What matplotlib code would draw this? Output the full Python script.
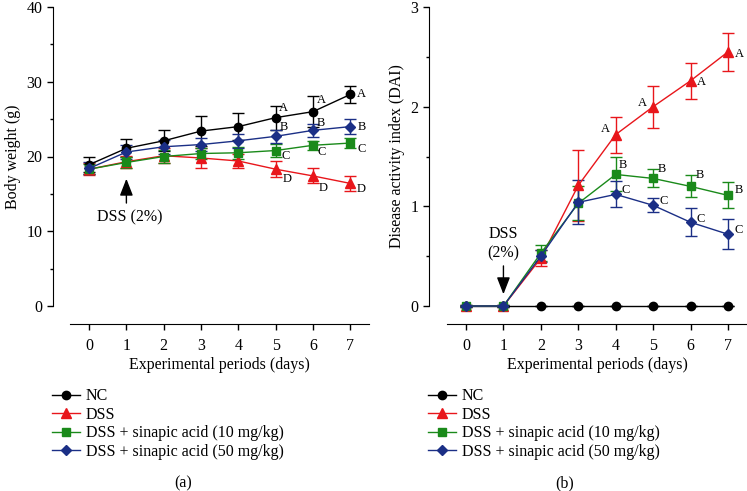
import matplotlib
matplotlib.use("Agg")
import matplotlib.pyplot as plt
import numpy as np

plt.rcParams["font.family"] = ["Liberation Serif", "DejaVu Serif"]
plt.rcParams["font.size"] = 11.5

days = np.arange(8)
groups = ["NC", "DSS", "DSS + sinapic acid (10 mg/kg)", "DSS + sinapic acid (50 mg/kg)"]
colors = ["black", "#e8161b", "#1a8a1a", "#1b2f86"]
markers = ["o", "^", "s", "D"]
msizes = [6, 6.5, 5.5, 5]

# (a) body weight (g)
bw_mean = [
    [18.9, 21.1, 22.1, 23.4, 24.0, 25.2, 26.0, 28.3],
    [18.3, 19.3, 20.1, 19.8, 19.4, 18.3, 17.4, 16.4],
    [18.3, 19.2, 20.0, 20.4, 20.5, 20.8, 21.5, 21.8],
    [18.4, 20.6, 21.3, 21.6, 22.1, 22.7, 23.5, 24.0],
]
bw_err = [
    [1.0, 1.2, 1.4, 2.0, 1.8, 1.6, 2.1, 1.1],
    [0.8, 0.8, 1.0, 1.3, 0.9, 1.05, 1.0, 1.0],
    [0.7, 0.7, 0.9, 0.8, 0.8, 0.85, 0.6, 0.7],
    [0.8, 1.0, 0.9, 0.85, 0.9, 0.9, 0.9, 1.0],
]
bw_letters = [
    (0, [5, 6, 7], "A"),
    (3, [5, 6, 7], "B"),
    (2, [5, 6, 7], "C"),
    (1, [5, 6, 7], "D"),
]

# (b) disease activity index
dai_mean = [
    [0, 0, 0, 0, 0, 0, 0, 0],
    [0, 0, 0.48, 1.21, 1.72, 2.00, 2.26, 2.55],
    [0, 0, 0.53, 1.03, 1.32, 1.28, 1.20, 1.11],
    [0, 0, 0.50, 1.04, 1.12, 1.01, 0.84, 0.72],
]
dai_err = [
    [0, 0, 0, 0, 0, 0, 0, 0],
    [0.01, 0.01, 0.08, 0.36, 0.18, 0.21, 0.18, 0.19],
    [0.01, 0.01, 0.08, 0.17, 0.17, 0.09, 0.11, 0.13],
    [0.01, 0.01, 0.06, 0.22, 0.13, 0.07, 0.14, 0.15],
]
dai_letters = [
    (1, [4, 5, 6, 7], "A"),
    (2, [4, 5, 6, 7], "B"),
    (3, [4, 5, 6, 7], "C"),
]

# letter offsets in pixels (dx, dy up)
bw_offsets = {
    "A": [(8, 10), (8, 12), (11, 0)],
    "B": [(8, 9), (8, 7), (11, 0)],
    "C": [(10, -5), (9, -7), (11, -6)],
    "D": [(11, -10), (10, -12), (11, -6)],
}
dai_offsets = {
    "A": [(-10, 6), (-11, 4), (11, -1), (11, -2)],
    "B": [(7, 9), (9, 9), (9, 11), (11, 5)],
    "C": [(10, 4), (11, 4), (10, 3), (11, 4)],
}

W, H = 747, 491
fig = plt.figure(figsize=(W / 100, H / 100), dpi=100)


def px_axes(x0, x1, ytop, ybot):
    return fig.add_axes([x0 / W, 1 - ybot / H, (x1 - x0) / W, (ybot - ytop) / H])


def style(ax, ylim, yticks, yminor, yoff, ylabel):
    ax.set_xlim(-0.5, 7.5)
    ax.set_ylim(*ylim)
    for s in ["top", "right"]:
        ax.spines[s].set_visible(False)
    ax.spines["bottom"].set_position(("outward", 13))
    ax.spines["left"].set_position(("outward", yoff))
    ax.spines["left"].set_bounds(*ylim)
    ax.set_xticks(days)
    ax.set_yticks(yticks)
    ax.set_yticks(yminor, minor=True)
    ax.tick_params(axis="both", which="major", direction="out", length=4, width=1, labelsize=11.5)
    ax.tick_params(axis="x", which="major", pad=6)
    ax.tick_params(axis="y", which="minor", direction="out", length=2.5, width=1)
    ax.set_xlabel("Experimental periods (days)", fontsize=11.5, labelpad=2)
    ax.set_ylabel(ylabel, fontsize=11.5)
    ax.patch.set_alpha(0)


def draw(ax, means, errs, order):
    handles = [None] * 4
    for i in order:
        eb = ax.errorbar(days, means[i], yerr=errs[i], fmt="none", ecolor=colors[i],
                         elinewidth=1, capsize=4, capthick=1, zorder=2 + i * 0.1)
        for art in eb.lines[1] + eb.lines[2]:
            art.set_clip_on(False)
        (ln,) = ax.plot(days, means[i], color=colors[i], marker=markers[i], ms=msizes[i],
                        lw=1, label=groups[i], zorder=3 + i * 0.1, clip_on=False)
        handles[i] = ln
    return handles


def letters(ax, means, spec, offsets):
    for gi, dlist, lab in spec:
        for k, d in enumerate(dlist):
            dx, dy = offsets[lab][k]
            ax.annotate(lab, (days[d], means[gi][d]), xytext=(dx, dy),
                        textcoords="offset pixels", ha="center", va="center", fontsize=9)


arrow = dict(arrowstyle="-|>,head_length=0.9,head_width=0.35", color="black", lw=1)

# panel (a)
ax1 = px_axes(70.4, 369, 7, 306)
style(ax1, (0, 40), [0, 10, 20, 30, 40], [5, 15, 25, 35], 12.5, "Body weight (g)")
h1 = draw(ax1, bw_mean, bw_err, [1, 2, 3, 0])
letters(ax1, bw_mean, bw_letters, bw_offsets)
ax1.annotate("", xy=(1, 17.4), xytext=(1, 13.4), arrowprops=arrow)
ax1.text(1.1, 11.8, "DSS (2%)", ha="center", va="center", fontsize=11.5)
ax1.yaxis.set_label_coords(-0.165, 0.5)

# panel (b)
ax2 = px_axes(447.3, 746.7, 7, 306)
style(ax2, (0, 3), [0, 1, 2, 3], [0.5, 1.5, 2.5], 13.2, "Disease activity index (DAI)")
h2 = draw(ax2, dai_mean, dai_err, [0, 3, 2, 1])
letters(ax2, dai_mean, dai_letters, dai_offsets)
ax2.annotate("", xy=(1, 0.09), xytext=(1, 0.43), arrowprops=arrow)
ax2.text(1, 0.72, "DSS", ha="center", va="center", fontsize=11.5)
ax2.text(1, 0.53, "(2%)", ha="center", va="center", fontsize=11.5)
ax2.yaxis.set_label_coords(-0.141, 0.5)

for ax, h, x0 in [(ax1, h1, 52), (ax2, h2, 428)]:
    ax.legend(handles=h, loc="upper left", bbox_to_anchor=(x0 / W, 1 - 388.5 / H),
              bbox_transform=fig.transFigure, frameon=False, fontsize=11.5,
              handlelength=1.75, handletextpad=0.35, labelspacing=0.15,
              borderpad=0, borderaxespad=0)

fig.text(183 / W, 1 - 483 / H, "(a)", ha="center", va="center", fontsize=11.5)
fig.text(565 / W, 1 - 483 / H, "(b)", ha="center", va="center", fontsize=11.5)

fig.savefig("out.png", dpi=100)
